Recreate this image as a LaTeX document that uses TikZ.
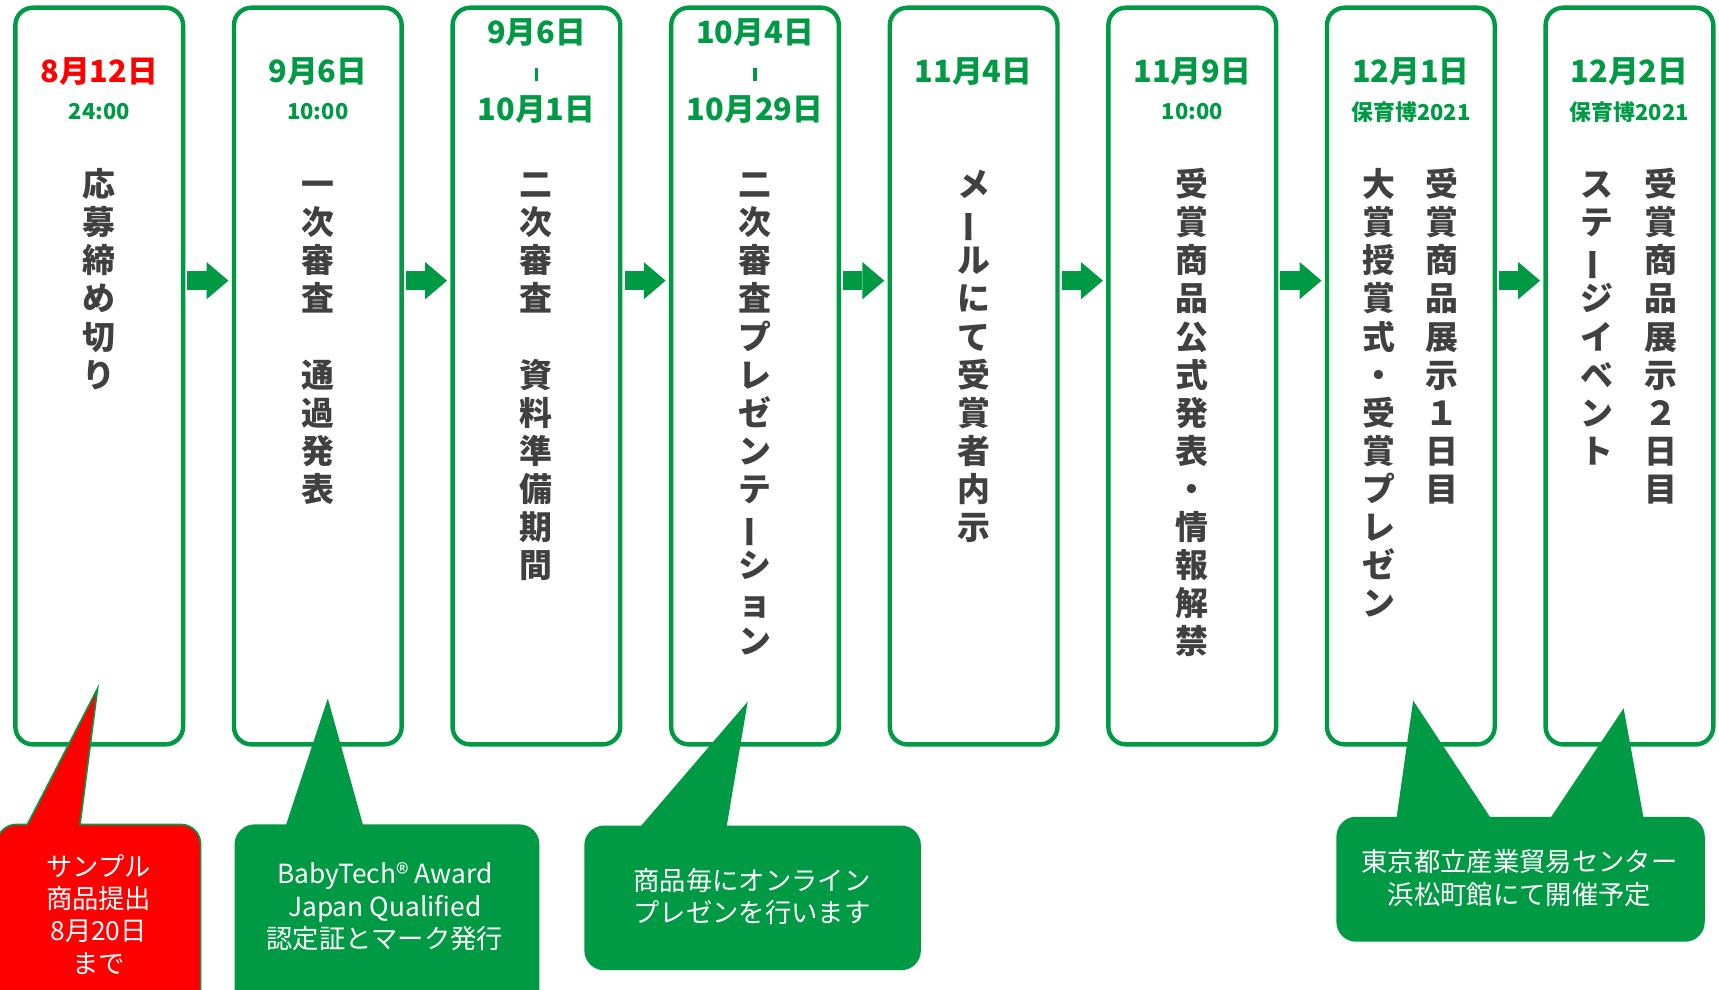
\documentclass[tikz,border=0pt]{standalone}
\usepackage{fontspec}
\newfontfamily\jpfont{Noto Sans CJK JP}
\usepackage{xcolor}
\usepackage{tikz}
\usetikzlibrary{arrows.meta}
\definecolor{kgreen}{HTML}{009A44}
\definecolor{kred}{HTML}{FF0000}
\definecolor{kgray}{HTML}{404040}
\newcommand\chouon{\rotatebox[origin=c]{90}{ー}}
\newcommand\vcol[2]{\foreach \ch [count=\k from 0] in {#2} \node[vch] at (#1,{168+34.75*\k}) {\ch};}

\begin{document}
\begin{tikzpicture}[x=1pt,y=-1pt,
		stage/.style={draw=kgreen,line width=4pt,rounded corners=16pt,minimum width=153pt,minimum height=672pt,inner sep=0pt},
		nextarrow/.style={draw=kgreen,line width=17.5pt,-{Triangle[length=20pt,width=34pt,line width=0pt]},shorten <=2pt,shorten >=3pt},
		date/.style={font=\jpfont\bfseries\fontsize{28}{30}\selectfont,text=kgreen,inner sep=0pt},
		hour/.style={font=\jpfont\bfseries\fontsize{20}{22}\selectfont,text=kgreen,inner sep=0pt},
		rangebar/.style={draw=kgreen,line width=3pt},
		vch/.style={font=\jpfont\bfseries\fontsize{30}{30}\selectfont,text=kgray,inner sep=0pt,text height=26.4pt,text depth=3.6pt},
		bubble/.style={fill=kgreen},
		bubblered/.style={fill=kred,draw=kgreen,line width=1.5pt},
		note/.style={font=\jpfont\fontsize{24}{29.5}\selectfont,text=white,align=center,inner sep=0pt}]
		\useasboundingbox (0,0) rectangle (1568,903);
		\clip (0,0) rectangle (1568,903);
		\foreach \i in {0,...,7}
			\node[stage] (s\i) at ({90.5+199.4*\i},343) {};
		\foreach \i/\j in {0/1,1/2,2/3,3/4,4/5,5/6,6/7}
			\draw[nextarrow] ([yshift=87pt]s\i.east) -- ([yshift=87pt]s\j.west);
		\node[date,text=kred] (d0) at (90.5,65) {8月12日};
		\node[hour] (h0) at (90.5,102) {24:00};
		\node[date] (d1) at (289.9,65) {9月6日};
		\node[hour] (h1) at (289.9,102) {10:00};
		\node[date] (d2a) at (489.3,30) {9月6日};
		\node[date] (d2b) at (489.3,100) {10月1日};
		\draw[rangebar] (489.3,62) -- (489.3,74);
		\node[date] (d3a) at (688.7,30) {10月4日};
		\node[date] (d3b) at (688.7,100) {10月29日};
		\draw[rangebar] (688.7,62) -- (688.7,74);
		\node[date] (d4) at (888.1,65) {11月4日};
		\node[date] (d5) at (1087.5,65) {11月9日};
		\node[hour] (h5) at (1087.5,102) {10:00};
		\node[date] (d6) at (1286.9,65) {12月1日};
		\node[hour] (h6) at (1286.9,102) {保育博2021};
		\node[date] (d7) at (1486.3,65) {12月2日};
		\node[hour] (h7) at (1486.3,102) {保育博2021};
		\vcol{90.5}{応,募,締,め,切,り}
		\vcol{289.9}{一,次,審,査,{},通,過,発,表}
		\vcol{489.3}{二,次,審,査,{},資,料,準,備,期,間}
		\vcol{688.7}{二,次,審,査,プ,レ,ゼ,ン,テ,\chouon,シ,ョ,ン}
		\vcol{888.1}{メ,\chouon,ル,に,て,受,賞,者,内,示}
		\vcol{1087.5}{受,賞,商,品,公,式,発,表,・,情,報,解,禁}
		\vcol{1315.5}{受,賞,商,品,展,示,１,日,目}
		\vcol{1258}{大,賞,授,賞,式,・,受,賞,プ,レ,ゼ,ン}
		\vcol{1515}{受,賞,商,品,展,示,２,日,目}
		\vcol{1457}{ス,テ,\chouon,ジ,イ,ベ,ン,ト}
		\filldraw[bubblered] (89,628) -- (73,752) [rounded corners=18pt] -- (183,752) -- (183,935) -- (-3,935) -- (-3,752) [sharp corners] -- (25,752) -- cycle;
		\fill[bubble] (299,637) -- (331,752) [rounded corners=18pt] -- (492,752) -- (492,935) -- (214,935) -- (214,752) [sharp corners] -- (261,752) -- cycle;
		\fill[bubble] (682,640) -- (663,753) [rounded corners=18pt] -- (840,753) -- (840,885) -- (533,885) -- (533,753) [sharp corners] -- (585,753) -- cycle;
		\fill[bubble] (1289,639) -- (1359,745) -- (1415,745) -- (1481,646) -- (1499,745) [rounded corners=18pt] -- (1555,745) -- (1555,859) -- (1219,859) -- (1219,745) [sharp corners] -- (1274,745) -- cycle;
		\node[note] (n0) at (90,834) {サンプル\\商品提出\\8月20日\\まで};
		\node[note] (n1) at (351,827) {BabyTech® Award\\Japan Qualified\\認定証とマーク発行};
		\node[note] (n2) at (686,818) {商品毎にオンライン\\プレゼンを行います};
		\node[note] (n3) at (1386,801) {東京都立産業貿易センター\\浜松町館にて開催予定};
	\end{tikzpicture}
\end{document}
